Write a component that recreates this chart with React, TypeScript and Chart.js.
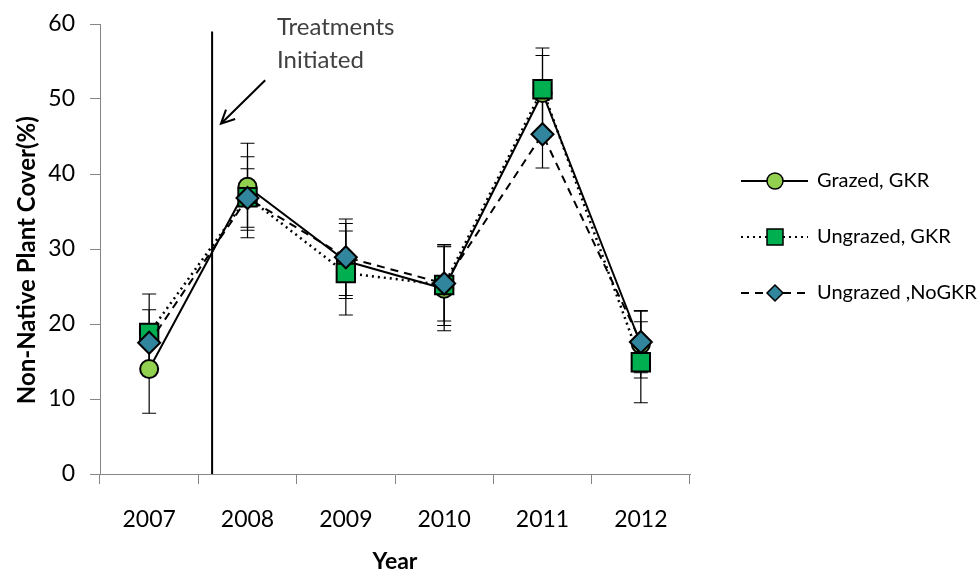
import React, { useEffect, useRef } from "react";
import { Chart, registerables } from "chart.js";

Chart.register(...registerables);

// Survey years and mean non-native plant cover (%) with error bars
const YEARS = ["2007", "2008", "2009", "2010", "2011", "2012"];

const GRAZED_GKR = [14.0, 38.3, 28.4, 24.7, 50.8, 17.3];
const GRAZED_GKR_ERR = [5.9, 5.8, 5.0, 5.6, 5.0, 4.5];

const UNGRAZED_GKR = [18.8, 36.9, 26.8, 25.2, 51.3, 14.9];
const UNGRAZED_GKR_ERR = [5.2, 5.4, 5.6, 5.4, 5.5, 5.4];

const UNGRAZED_NOGKR = [17.5, 36.8, 28.9, 25.4, 45.3, 17.6];
const UNGRAZED_NOGKR_ERR = [4.4, 3.9, 5.1, 5.0, 4.5, 4.1];

const SERIES_LABELS = ["Grazed, GKR", "Ungrazed, GKR", "Ungrazed ,NoGKR"];
const ERRORS = [GRAZED_GKR_ERR, UNGRAZED_GKR_ERR, UNGRAZED_NOGKR_ERR];

const Y_TITLE = "Non-Native Plant Cover(%)";
const X_TITLE = "Year";

// Treatment start marker (x in category index units, y in % cover)
const TREATMENT_X = 0.64;
const TREATMENT_Y_TOP = 59;
const ARROW_FROM = { x: 1.18, y: 52.5 };
const ARROW_TO = { x: 0.73, y: 46.7 };
const NOTE_LINES = ["Treatments", "Initiated"];
const NOTE_POS = { x: 1.3, y: 59.5, dy: 4.3 };

const FONT = "Lato, 'Open Sans', sans-serif";

const errorBars = {
  id: "errorBars",
  beforeDatasetsDraw(chart: any) {
    const { ctx } = chart;
    const y = chart.scales.y;
    ctx.save();
    ctx.strokeStyle = "#000";
    ctx.lineWidth = 1.2;
    chart.data.datasets.forEach((ds: any, i: number) => {
      const meta = chart.getDatasetMeta(i);
      const errs = ERRORS[i];
      meta.data.forEach((pt: any, j: number) => {
        const v = ds.data[j];
        const top = y.getPixelForValue(v + errs[j]);
        const bot = y.getPixelForValue(v - errs[j]);
        const x = pt.x;
        ctx.beginPath();
        ctx.moveTo(x, top);
        ctx.lineTo(x, bot);
        ctx.moveTo(x - 7, top);
        ctx.lineTo(x + 7, top);
        ctx.moveTo(x - 7, bot);
        ctx.lineTo(x + 7, bot);
        ctx.stroke();
      });
    });
    ctx.restore();
  },
};

const treatmentNote = {
  id: "treatmentNote",
  afterDraw(chart: any) {
    const { ctx } = chart;
    const xs = chart.scales.x;
    const ys = chart.scales.y;
    ctx.save();
    ctx.strokeStyle = "#000";
    ctx.lineWidth = 2;
    const lx = xs.getPixelForValue(TREATMENT_X);
    ctx.beginPath();
    ctx.moveTo(lx, ys.getPixelForValue(0));
    ctx.lineTo(lx, ys.getPixelForValue(TREATMENT_Y_TOP));
    ctx.stroke();

    const ax0 = xs.getPixelForValue(ARROW_FROM.x);
    const ay0 = ys.getPixelForValue(ARROW_FROM.y);
    const ax1 = xs.getPixelForValue(ARROW_TO.x);
    const ay1 = ys.getPixelForValue(ARROW_TO.y);
    ctx.beginPath();
    ctx.moveTo(ax0, ay0);
    ctx.lineTo(ax1, ay1);
    const ang = Math.atan2(ay1 - ay0, ax1 - ax0);
    const head = 15;
    ctx.moveTo(ax1 + head * Math.cos(ang + Math.PI - 0.45), ay1 + head * Math.sin(ang + Math.PI - 0.45));
    ctx.lineTo(ax1, ay1);
    ctx.lineTo(ax1 + head * Math.cos(ang + Math.PI + 0.45), ay1 + head * Math.sin(ang + Math.PI + 0.45));
    ctx.stroke();

    ctx.fillStyle = "#404040";
    ctx.font = `24px ${FONT}`;
    ctx.textAlign = "left";
    ctx.textBaseline = "middle";
    NOTE_LINES.forEach((t, i) => {
      ctx.fillText(t, xs.getPixelForValue(NOTE_POS.x), ys.getPixelForValue(NOTE_POS.y - i * NOTE_POS.dy));
    });
    ctx.restore();
  },
};

// Rotated y-axis title, centred a little below the middle of the axis
const yTitle = {
  id: "yTitle",
  afterDraw(chart: any) {
    const { ctx } = chart;
    const ys = chart.scales.y;
    ctx.save();
    ctx.translate(27, ys.getPixelForValue(28.5));
    ctx.rotate(-Math.PI / 2);
    ctx.fillStyle = "#000";
    ctx.font = `bold 24px ${FONT}`;
    ctx.textAlign = "center";
    ctx.textBaseline = "middle";
    ctx.fillText(Y_TITLE, 0, 0);
    ctx.restore();
  },
};

function drawMarker(ctx: CanvasRenderingContext2D, style: string, x: number, y: number, r: number, fill: string) {
  ctx.beginPath();
  if (style === "circle") {
    ctx.arc(x, y, r, 0, Math.PI * 2);
  } else if (style === "rect") {
    ctx.rect(x - r, y - r, 2 * r, 2 * r);
  } else {
    ctx.moveTo(x, y - r);
    ctx.lineTo(x + r, y);
    ctx.lineTo(x, y + r);
    ctx.lineTo(x - r, y);
    ctx.closePath();
  }
  ctx.fillStyle = fill;
  ctx.fill();
  ctx.lineWidth = 1.5;
  ctx.strokeStyle = "#000";
  ctx.stroke();
}

const sideLegend = {
  id: "sideLegend",
  afterDraw(chart: any) {
    const { ctx } = chart;
    const left = chart.chartArea.right + 51;
    const rows = [181, 237, 293];
    const markers = [
      { style: "circle", r: 8, fill: "#92D050" },
      { style: "rect", r: 8, fill: "#00B050" },
      { style: "diamond", r: 8, fill: "#31859C" },
    ];
    ctx.save();
    chart.data.datasets.forEach((ds: any, i: number) => {
      const y = rows[i];
      ctx.strokeStyle = "#000";
      ctx.lineWidth = 2;
      ctx.setLineDash(ds.borderDash || []);
      ctx.beginPath();
      ctx.moveTo(left, y);
      ctx.lineTo(left + 67, y);
      ctx.stroke();
      ctx.setLineDash([]);
      const m = markers[i];
      drawMarker(ctx, m.style, left + 34, y, m.r, m.fill);
      ctx.fillStyle = "#000";
      ctx.font = `20px ${FONT}`;
      ctx.textAlign = "left";
      ctx.textBaseline = "middle";
      ctx.fillText(SERIES_LABELS[i], left + 76, y);
    });
    ctx.restore();
  },
};

export default function App() {
  const ref = useRef<HTMLCanvasElement | null>(null);

  useEffect(() => {
    if (!ref.current) return;
    Chart.defaults.font.family = FONT;
    const chart = new Chart(ref.current, {
      type: "line",
      data: {
        labels: YEARS,
        datasets: [
          {
            label: SERIES_LABELS[0],
            data: GRAZED_GKR,
            borderColor: "#000",
            borderWidth: 2,
            pointStyle: "circle",
            pointRadius: 9,
            pointBackgroundColor: "#92D050",
            pointBorderColor: "#000",
            pointBorderWidth: 2,
            order: 3,
          },
          {
            label: SERIES_LABELS[1],
            data: UNGRAZED_GKR,
            borderColor: "#000",
            borderWidth: 2.5,
            borderDash: [2, 4],
            pointStyle: "rect",
            pointRadius: 13,
            pointBackgroundColor: "#00B050",
            pointBorderColor: "#000",
            pointBorderWidth: 2,
            order: 2,
          },
          {
            label: SERIES_LABELS[2],
            data: UNGRAZED_NOGKR,
            borderColor: "#000",
            borderWidth: 2,
            borderDash: [8, 6],
            pointStyle: "rectRot",
            pointRadius: 11,
            pointBackgroundColor: "#31859C",
            pointBorderColor: "#000",
            pointBorderWidth: 2,
            order: 1,
          },
        ],
      },
      options: {
        animation: false,
        responsive: true,
        maintainAspectRatio: false,
        layout: { padding: { left: 0, right: 289, top: 24, bottom: 0 } },
        plugins: { legend: { display: false }, tooltip: { enabled: false } },
        elements: { line: { tension: 0 } },
        scales: {
          x: {
            offset: true,
            grid: { offset: true, drawOnChartArea: false, drawTicks: true, tickLength: 10, color: "#868686" },
            border: { color: "#868686", width: 1 },
            ticks: { color: "#000", padding: 22, font: { size: 23 } },
            title: { display: true, text: X_TITLE, color: "#000", font: { size: 23, weight: "bold" }, padding: { top: 0, bottom: 0 } },
            afterFit: (s: any) => {
              s.height = 101;
            },
          },
          y: {
            min: 0,
            max: 60,
            ticks: { stepSize: 10, color: "#000", padding: 15, font: { size: 23 } },
            grid: { drawOnChartArea: false, drawTicks: true, tickLength: 10, color: "#868686" },
            border: { color: "#868686", width: 1 },
            afterFit: (s: any) => {
              s.width = 100;
              s.paddingTop = 0;
              s.paddingBottom = 0;
            },
          },
        },
      },
      plugins: [errorBars, treatmentNote, yTitle, sideLegend],
    });
    return () => chart.destroy();
  }, []);

  return (
    <div style={{ position: "absolute", left: 0, top: 0, width: 979, height: 575, background: "#fff" }}>
      <canvas ref={ref} />
    </div>
  );
}
